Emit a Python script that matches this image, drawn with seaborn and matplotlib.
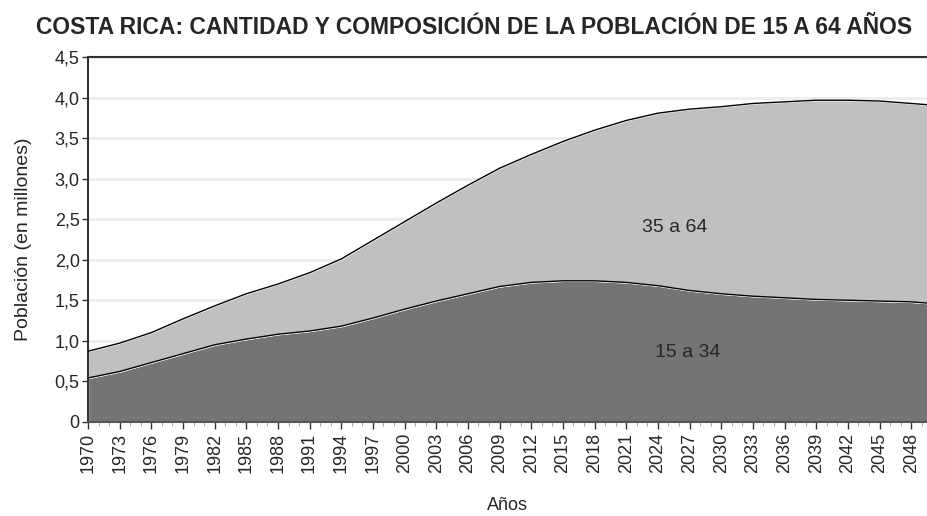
import numpy as np
import pandas as pd
import matplotlib
matplotlib.use('Agg')
import matplotlib.pyplot as plt
import seaborn as sns
from matplotlib.ticker import MultipleLocator, FuncFormatter

# Datos (millones de personas)
anios = [1970, 1973, 1976, 1979, 1982, 1985, 1988, 1991, 1994, 1997,
         2000, 2003, 2006, 2009, 2012, 2015, 2018, 2021, 2024, 2027,
         2030, 2033, 2036, 2039, 2042, 2045, 2048, 2050]
pob_15_34 = [0.54, 0.62, 0.73, 0.84, 0.95, 1.02, 1.08, 1.12, 1.18, 1.28,
             1.39, 1.49, 1.58, 1.67, 1.72, 1.74, 1.74, 1.72, 1.68, 1.62,
             1.58, 1.55, 1.53, 1.51, 1.50, 1.49, 1.48, 1.46]
pob_35_64 = [0.33, 0.35, 0.37, 0.43, 0.48, 0.56, 0.62, 0.72, 0.83, 0.96,
             1.08, 1.21, 1.34, 1.46, 1.58, 1.72, 1.86, 2.00, 2.13, 2.24,
             2.31, 2.38, 2.42, 2.46, 2.47, 2.47, 2.45, 2.45]
grupos = ['15 a 34', '35 a 64']

df = pd.DataFrame({'anio': anios, '15 a 34': pob_15_34, '35 a 64': pob_35_64})
df['total'] = df['15 a 34'] + df['35 a 64']

sns.set_style('white')
plt.rcParams['font.family'] = ['Liberation Sans', 'DejaVu Sans']

fig = plt.figure(figsize=(9.27, 5.16), dpi=100)
ax = fig.add_axes([88 / 927, 1 - 421.7 / 516, (927 - 88) / 927, (421.7 - 57.3) / 516])

ax.stackplot(df['anio'], df['15 a 34'], df['35 a 64'],
             colors=['#747474', '#c0c0c0'], zorder=2)
sns.lineplot(x='anio', y='15 a 34', data=df, ax=ax, color='black', lw=1.0, zorder=3)
sns.lineplot(x='anio', y='total', data=df, ax=ax, color='black', lw=1.0, zorder=3)

ax.set_xlim(1970, 2049.5)
ax.set_ylim(0, 4.5)

# ejes y rejilla
ax.yaxis.set_major_locator(MultipleLocator(0.5))
ax.yaxis.set_major_formatter(FuncFormatter(
    lambda v, p: '0' if v == 0 else f'{v:.1f}'.replace('.', ',')))
ax.grid(axis='y', color='#ededed', lw=2, zorder=0)
ax.set_axisbelow(True)

ax.set_xticks(list(range(1970, 2049, 3)))
ax.set_xticks(list(range(1970, 2050)), minor=True)
ax.tick_params(axis='x', which='major', rotation=90, labelsize=13,
               length=5, width=1, color='#333333', direction='out', bottom=True, pad=3)
ax.tick_params(axis='x', which='minor', length=3, width=0.8, color='#aaaaaa',
               direction='out', bottom=True)
ax.tick_params(axis='y', labelsize=13, length=4, width=1, color='#333333',
               direction='out', left=True, pad=2)

for side in ['top', 'left']:
    ax.spines[side].set_color('#333333')
    ax.spines[side].set_linewidth(1.5)
ax.spines['bottom'].set_color('#555555')
ax.spines['bottom'].set_linewidth(1.5)
ax.spines['right'].set_visible(False)

ax.set_xlabel('Años', fontsize=13, labelpad=17)
ax.set_ylabel('Población (en millones)', fontsize=14, labelpad=16)

ax.text(2025.6, 2.40, grupos[1], fontsize=14, ha='center', va='center', zorder=4)
ax.text(2026.8, 0.85, grupos[0], fontsize=14, ha='center', va='center', zorder=4)

fig.text(474 / 927, 1 - 28 / 516,
         'COSTA RICA: CANTIDAD Y COMPOSICIÓN DE LA POBLACIÓN DE 15 A 64 AÑOS',
         fontsize=16.5, fontweight='bold', ha='center', va='center')

fig.savefig('out.png', dpi=100)
